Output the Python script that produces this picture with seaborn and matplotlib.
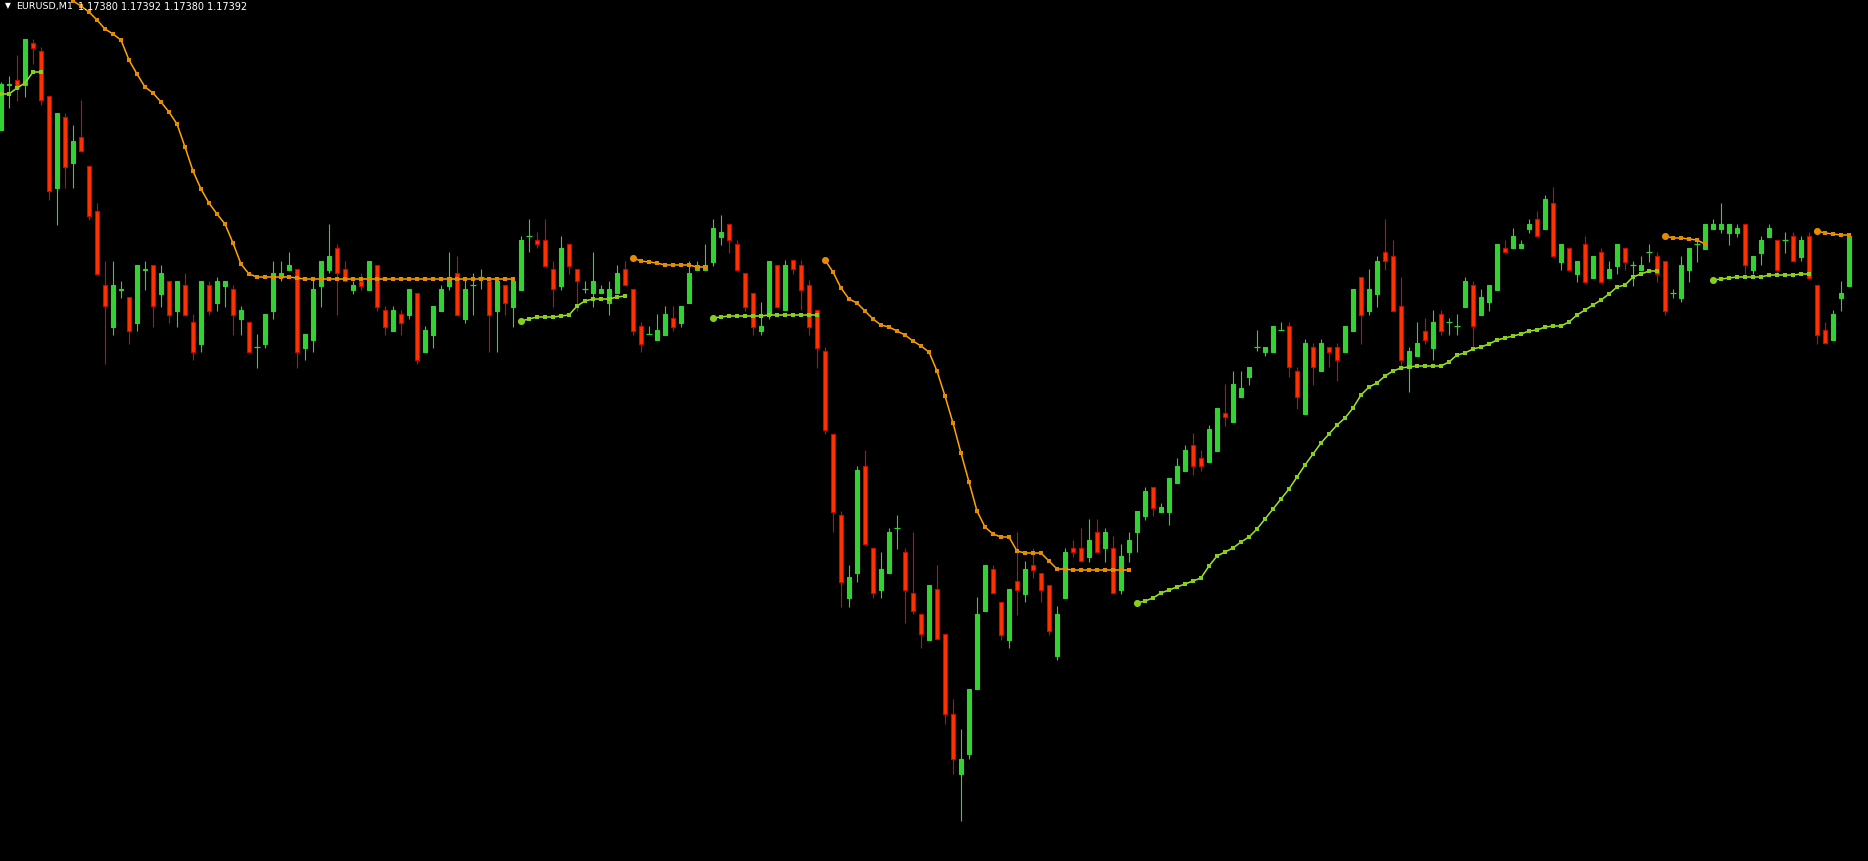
import numpy as np
import pandas as pd
import matplotlib
matplotlib.use("Agg")
import matplotlib.pyplot as plt
import seaborn as sns

symbol = "EURUSD,M1"
last_bar = "1.17380 1.17392 1.17380 1.17392"

# one-minute bars, prices in points above 1.17000
open_pts = [
    444.5, 467, 469.5, 467, 488, 484, 461.5, 415.5, 451, 428,
    441, 426.5, 404, 367, 346, 364.5, 361, 348, 374.5, 377,
    362.5, 369, 354, 367, 348.5, 337.5, 367, 358, 366.5, 365,
    350, 348.5, 336, 337.5, 354, 371, 374.5, 375, 335.5, 339.5,
    366.5, 374.5, 385.5, 375, 364.5, 369, 364.5, 377, 354.5, 344,
    352.5, 352, 363, 333.5, 342, 354, 366.5, 373, 350, 367,
    371, 369, 354, 367, 356, 364.5, 391.5, 389.5, 389.5, 375,
    366.5, 387.5, 375, 365, 363, 363, 358, 363, 375, 365,
    346.5, 342.5, 339.5, 342, 350.5, 348, 358, 374.5, 374.5, 378.5,
    391, 397.5, 387.5, 373, 363, 344, 352, 377, 354.5, 379.5,
    377, 367, 354.5, 334, 292.5, 252, 210.5, 223, 276.5, 235.5,
    214.5, 223, 245.5, 233.5, 213, 202.5, 189.5, 215, 192.5, 152.5,
    122.5, 132.5, 165, 204, 225, 208.5, 189.5, 219, 212.5, 227,
    223, 217, 181.5, 210.5, 235.5, 235.5, 231, 243.5, 235.5, 235.5,
    214.5, 233.5, 243.5, 251.5, 266, 253.5, 253.5, 268, 274, 287,
    280.5, 278.5, 284, 303, 298.5, 311, 321, 336, 333.5, 333.5,
    344.5, 346.5, 324, 302.5, 336, 324, 336, 336, 333.5, 344,
    371, 354, 362.5, 383.5, 381.5, 356.5, 325.5, 331.5, 344, 335.5,
    352.5, 348.5, 346.5, 356, 367, 352, 358.5, 364.5, 385.5, 385.5,
    385.5, 395, 400, 395, 408, 378.5, 385.5, 372.5, 387.5, 370.5,
    383.5, 370.5, 376.5, 385.5, 377, 374.5, 383.5, 381.5, 379, 363,
    360.5, 374.5, 387.5, 385, 395, 395, 393, 393, 397.5, 374.5,
    383, 391, 389.5, 389.5, 391.5, 381, 391.5, 367, 344.5, 339.5,
    360.5, 366.5,
]
high_pts = [
    468.5, 471.5, 482, 490, 490, 486, 461.5, 453, 453, 447,
    459.5, 426.5, 408, 379, 379, 369, 361, 377, 379, 377,
    377, 369, 369, 373, 352.5, 369, 369, 371, 369, 367,
    356.5, 348.5, 342.5, 352.5, 379, 379, 383.5, 375, 342.5, 371,
    379, 397.5, 387.5, 379, 369, 373, 379, 377, 356.5, 356.5,
    354.5, 365, 363, 346.5, 356.5, 367, 383.5, 381.5, 371, 373,
    375, 369, 369, 367, 369, 391.5, 400, 393.5, 400, 379,
    391.5, 387.5, 375, 369, 383.5, 367, 369, 377, 379, 365,
    348.5, 346.5, 352.5, 356.5, 356.5, 356.5, 379, 379, 387.5, 400,
    402, 397.5, 389.5, 373, 363, 358.5, 379, 377, 379.5, 379.5,
    379.5, 369.5, 354.5, 336, 292.5, 254, 227, 276.5, 284.5, 235.5,
    233.5, 245.5, 252, 235.5, 243.5, 202.5, 217, 227, 192.5, 160,
    145, 165, 211, 227, 227, 208.5, 215, 243.5, 229, 235.5,
    223, 217, 206.5, 235.5, 239.5, 245.5, 250, 250, 245.5, 241.5,
    237.5, 243.5, 254, 266, 266, 258, 270.5, 280.5, 287, 293,
    284.5, 297, 305.5, 317.5, 324, 324, 326, 344.5, 336, 346.5,
    348.5, 348.5, 326, 340, 338, 340, 336, 338, 346.5, 365,
    371, 375, 381.5, 400, 389.5, 371, 336, 348.5, 350.5, 354.5,
    354.5, 350.5, 352.5, 371, 369, 365, 367, 387.5, 389.5, 395.5,
    389.5, 400, 404, 412, 416, 387.5, 385.5, 379, 391.5, 381.5,
    385.5, 379, 387.5, 385.5, 379, 381.5, 387.5, 383.5, 379, 365,
    381.5, 385.5, 389.5, 397.5, 400, 408, 397.5, 397.5, 397.5, 381.5,
    391.5, 397.5, 389.5, 393.5, 393.5, 391.5, 393.5, 367, 348.5, 354.5,
    369, 391.5,
]
low_pts = [
    444.5, 455.5, 459, 461, 477.5, 457, 409.5, 397, 415.5, 415.5,
    434, 399.5, 372.5, 327.5, 342, 360.5, 337.5, 344, 364.5, 346,
    356, 348, 346, 352, 329.5, 333.5, 352, 354, 356, 342,
    342, 333.5, 325.5, 335.5, 350, 369, 374.5, 325.5, 329.5, 333.5,
    356, 373, 352, 369, 362.5, 364.5, 364.5, 354, 342, 344,
    342, 350, 327.5, 333.5, 335.5, 354, 364.5, 352, 348, 352,
    365, 333.5, 333.5, 352, 346, 364.5, 383.5, 385.5, 376.5, 356,
    364.5, 372.5, 354, 363, 356, 363, 352, 363, 367, 342,
    333.5, 342.5, 339.5, 342, 344, 346, 358, 374.5, 374.5, 376.5,
    387, 383, 374.5, 354, 342, 342, 350, 356, 354.5, 372.5,
    354.5, 342, 325.5, 292.5, 243.5, 206, 206, 218.5, 237.5, 210.5,
    210.5, 223, 235, 198, 202.5, 185.5, 189.5, 190, 147.5, 122.5,
    99, 130, 165, 204, 213, 189.5, 185.5, 202, 208.5, 220.5,
    208.5, 192, 179.5, 210.5, 231, 229, 228.5, 233.5, 228.5, 213,
    212.5, 228.5, 233.5, 249.5, 251.5, 253.5, 247, 268, 274, 272,
    274, 278.5, 284, 296.5, 298.5, 311, 317, 334, 331.5, 333.5,
    344.5, 321, 305, 302.5, 317, 324, 326, 319, 333.5, 344,
    337.5, 352, 356, 374.5, 354, 326, 313.5, 331.5, 337.5, 329.5,
    342, 342, 342, 356, 335, 352, 354, 364.5, 383.5, 385.5,
    385.5, 393, 391.5, 395, 381.5, 374.5, 374.5, 368.5, 368.5, 370.5,
    368.5, 370.5, 372.5, 374.5, 366.5, 374.5, 378.5, 368.5, 352, 360.5,
    358.5, 368.5, 378.5, 385, 395, 393, 387, 391, 372.5, 372.5,
    377, 391, 372.5, 383, 379, 379, 370.5, 337.5, 338, 339.5,
    354, 366.5,
]
close_pts = [
    467.5, 467.5, 465.5, 490, 485.5, 459.5, 414, 453, 426, 439,
    434, 401.5, 372.5, 356.5, 367, 365, 344, 377, 375, 356.5,
    373, 352, 369, 352, 333.5, 369, 354, 369, 369, 352,
    354.5, 333.5, 336, 352.5, 373, 373, 377, 333.5, 342.5, 365,
    379, 381.5, 373, 369, 367, 366.5, 379, 356, 346, 354.5,
    348, 365, 329.5, 344.5, 356.5, 365, 371, 352, 365, 367,
    371, 352, 369, 358, 369, 389.5, 391.5, 387.5, 376.5, 365,
    385.5, 376.5, 369, 365, 369, 365, 365, 373, 367, 344,
    337.5, 342.5, 344.5, 352.5, 346, 356.5, 373, 377, 377, 395.5,
    393.5, 389.5, 374.5, 356, 346, 346.5, 379, 356, 377, 375,
    364.5, 346, 335.5, 294.5, 253.5, 218.5, 221, 274.5, 237.5, 213,
    225, 243.5, 245.5, 214.5, 204, 192.5, 217, 190, 152.5, 130,
    130, 165, 202.5, 227, 213, 192, 215, 214.5, 225, 224.5,
    214.5, 194, 202.5, 233.5, 233.5, 229, 239.5, 233.5, 243.5, 213,
    231.5, 239.5, 254, 264, 255.5, 256, 270.5, 276.5, 284.5, 276.5,
    276.5, 295, 305.5, 301, 317.5, 315.5, 326, 336, 336, 346.5,
    344.5, 326, 311, 338, 326, 338, 333.5, 329.5, 346.5, 365,
    352, 365, 379, 379, 354, 329.5, 334, 338, 339.5, 348.5,
    344, 348.5, 346.5, 369, 346.5, 361, 367, 387.5, 383.5, 391.5,
    387.5, 397.5, 391.5, 410, 381.5, 387.5, 374.5, 379, 368.5, 381.5,
    368.5, 375, 387.5, 378.5, 377, 377, 383.5, 372.5, 354, 363,
    377, 385.5, 387.5, 397.5, 397.5, 397.5, 397.5, 395.5, 377, 381.5,
    389.5, 395.5, 374.5, 389.5, 379, 389.5, 370.5, 342, 338, 352.5,
    363, 391.5,
]

# trailing-stop indicator: segments (first bar, side, levels in points)
trail_start = [0, 8, 65, 79, 89, 103, 142, 208, 214, 227]
trail_side = ["up", "down", "up", "down", "up", "down", "up", "down", "up", "down"]
trail_pts = [
    [462.5, 462.5, 465.5, 468, 473.5, 473.5],
    [514, 509, 506.5, 503.5, 499.5, 495, 492.5, 489.5, 479.5, 472.5,
     466, 463, 458.5, 453.5, 447.5, 436, 424, 415, 408, 402.5,
     397.5, 388, 377.5, 372.5, 371, 371, 371, 371, 371, 370.5]
    + [370] * 27,
    [349, 350, 351, 351, 351, 351.5, 352, 356.5, 359, 360, 360, 360, 361, 361.5],
    [380.5, 379, 378.5, 378, 377, 377, 377, 377, 376, 376],
    [350.5, 351, 351.5, 351.5, 351.5, 351.5, 351.5, 352, 352, 352, 352, 352, 352, 352],
    [379.5, 373.5, 365.5, 360, 358, 354, 350, 347, 346, 344,
     342, 339, 336.5, 333.5, 324, 311.5, 298, 283, 268.5, 254,
     246, 242.5, 241, 241, 234, 233, 233, 233, 229, 225,
     225, 224.5, 224.5, 224.5, 224.5, 224.5, 224.5, 224.5, 224.5],
    [208, 209, 210.5, 213, 214.5, 216, 217.5, 219, 220.5, 226.5,
     231.5, 233.5, 235.5, 238.5, 241, 245, 250, 255, 260, 265,
     271, 277, 282.5, 288, 292.5, 297, 300.5, 305.5, 312, 316,
     318, 321.5, 324, 325.5, 326, 326.5, 326.5, 326.5, 326.5, 328.5,
     332, 333, 335, 336, 337.5, 339.5, 340.5, 341.5, 342.5, 344,
     344.5, 346, 346.5, 346.5, 348.5, 352, 354.5, 357, 359.5, 362.5,
     366, 367, 371, 372.5, 374, 374],
    [391.5, 390.5, 390.5, 390, 389.5, 387.5],
    [369.5, 370, 370.5, 371, 371, 371, 371, 372, 372, 372, 372, 372.5, 372.5],
    [394, 393, 392.5, 392, 392],
]

base = 1.17
df = pd.DataFrame({
    "open": open_pts, "high": high_pts, "low": low_pts, "close": close_pts,
}) / 1e5 + base
df["bar"] = np.arange(len(df))
df["bull"] = df["close"] >= df["open"]

bull_col = "#32d232"
bear_fill = "#ff3300"
bear_edge = "#e00000"
up_line, up_dot = "#a6e61e", "#84d01a"
dn_line, dn_dot = "#ffa500", "#e68a00"

sns.set_theme(style="dark", rc={"axes.facecolor": "black", "figure.facecolor": "black"})
plt.rcParams["font.family"] = ["DejaVu Sans"]

W, H = 1868, 862
fig = plt.figure(figsize=(W / 100, H / 100), dpi=100)
ax = fig.add_axes([0, 0, 1, 1])
ax.set_facecolor("black")

# wicks
wick_cols = np.where(df["bull"], bull_col, bear_edge)
ax.vlines(df["bar"], df["low"], df["high"], colors=wick_cols, linewidth=0.8, zorder=2)

# bodies
doji = (df["close"] - df["open"]).abs() < 1e-7
body = df[~doji]
bottoms = body[["open", "close"]].min(axis=1)
heights = (body["close"] - body["open"]).abs()
ax.bar(body["bar"], heights, bottom=bottoms, width=0.52,
       color=np.where(body["bull"], bull_col, bear_fill),
       edgecolor=np.where(body["bull"], bull_col, bear_edge),
       linewidth=0.8, zorder=3)
dj = df[doji]
ax.hlines(dj["open"], dj["bar"] - 0.33, dj["bar"] + 0.33, colors=bull_col, linewidth=0.9, zorder=3)

# trailing stop segments
for start, side, pts in zip(trail_start, trail_side, trail_pts):
    xs = np.arange(start, start + len(pts))
    ys = base + np.array(pts) / 1e5
    lc, dc = (up_line, up_dot) if side == "up" else (dn_line, dn_dot)
    sns.lineplot(x=xs, y=ys, ax=ax, color=lc, linewidth=1.1, zorder=4)
    sns.scatterplot(x=xs, y=ys, ax=ax, marker="s", s=7, color=dc, linewidth=0, zorder=5)
    if start > 8:
        ax.scatter([xs[0]], [ys[0]], s=26, color=dc, linewidth=0, zorder=6)

ax.set_xlim(-1 / 8, (W - 1) / 8)
ax.set_ylim(base + 79 / 1e5, base + 510 / 1e5)
ax.set_xticks([])
ax.set_yticks([])
ax.set_xlabel("")
ax.set_ylabel("")
for s in ax.spines.values():
    s.set_visible(False)

fig.text(7.5 / W, 1 - 8.5 / H, "\u25bc", color="white", fontsize=5.5, ha="center", va="baseline")
fig.text(16 / W, 1 - 9.5 / H, symbol, color="white", fontsize=6.8, ha="left", va="baseline")
fig.text(78 / W, 1 - 9.5 / H, last_bar, color="white", fontsize=7.0, ha="left", va="baseline")

fig.savefig("out.png", dpi=100, facecolor="black")
